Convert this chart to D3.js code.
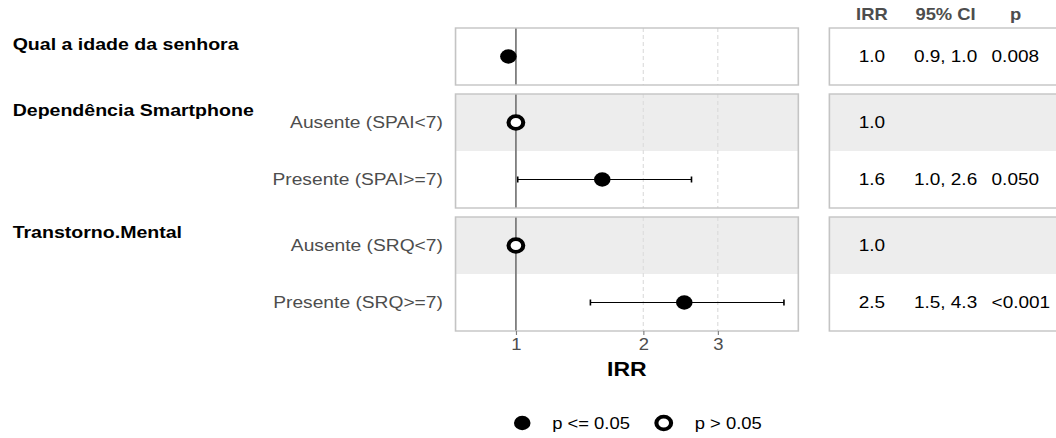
<!DOCTYPE html>
<html>
<head>
<meta charset="utf-8">
<script src="https://cdn.jsdelivr.net/npm/d3@7"></script>
<style>
  body { margin: 0; background: #ffffff; }
  svg { display: block; font-family: "Liberation Sans", Arial, sans-serif; }
</style>
</head>
<body>
<div id="chart"></div>
<script>
// Data
const groups = ["Qual a idade da senhora", "Dependência Smartphone", "Transtorno.Mental"];
const rowGroup = [0, 1, 1, 2, 2];
const rowLabels = ["", "Ausente (SPAI<7)", "Presente (SPAI>=7)", "Ausente (SRQ<7)", "Presente (SRQ>=7)"];
const irr = [0.96, 1.0, 1.6, 1.0, 2.5];
const ciLow = [0.94, null, 1.01, null, 1.5];
const ciHigh = [0.99, null, 2.6, null, 4.3];
const pValues = [0.008, null, 0.050, null, 0.0005];
const irrText = ["1.0", "1.0", "1.6", "1.0", "2.5"];
const ciText = ["0.9, 1.0", "", "1.0, 2.6", "", "1.5, 4.3"];
const pText = ["0.008", "", "0.050", "", "<0.001"];
const xTicks = [1, 2, 3];
const legendLabels = ["p <= 0.05", "p > 0.05"];

// the source picture is stretched sideways, so draw in a narrower box and stretch it
const stretch = 1.15;
const W = Math.round(1056 / stretch), H = 438;

const svg = d3.select("#chart").append("svg")
    .attr("width", 1056)
    .attr("height", H)
    .attr("viewBox", `0 0 ${W} ${H}`)
    .attr("preserveAspectRatio", "none");

const x = d3.scaleLog().domain([0.72, 4.65]).range([396, 694]);

// row layout: rows of one group share a panel
const rowH = 57, gap = 9, topY = 28;
const rows = rowLabels.map((lab, i) => {
    const g = rowGroup[i];
    const firstInGroup = rowGroup.indexOf(g);
    return { i, g, lab, shaded: rowGroup.filter(v => v === g).length > 1 && i === firstInGroup };
});
let cursor = topY;
const panels = groups.map((name, g) => {
    const n = rowGroup.filter(v => v === g).length;
    const p = { name, g, y0: cursor, y1: cursor + n * rowH };
    cursor += n * rowH + gap;
    return p;
});
rows.forEach(r => {
    const p = panels[r.g];
    const k = r.i - rowGroup.indexOf(r.g);
    r.y0 = p.y0 + k * rowH;
    r.cy = r.y0 + rowH / 2;
});

const tableX0 = 721, tableX1 = W + 10;

// row shading
svg.selectAll("rect.shade").data(rows.filter(r => r.shaded)).enter()
    .append("rect")
    .attr("x", x.range()[0]).attr("y", d => d.y0)
    .attr("width", x.range()[1] - x.range()[0]).attr("height", rowH)
    .attr("fill", "#ededed");
svg.selectAll("rect.shadeT").data(rows.filter(r => r.shaded)).enter()
    .append("rect")
    .attr("x", tableX0).attr("y", d => d.y0)
    .attr("width", tableX1 - tableX0).attr("height", rowH)
    .attr("fill", "#ededed");

// gridlines at 2 and 3
panels.forEach(p => {
    svg.selectAll(null).data(xTicks.filter(t => t !== 1)).enter()
        .append("line")
        .attr("x1", d => x(d)).attr("x2", d => x(d))
        .attr("y1", p.y0).attr("y2", p.y1)
        .attr("stroke", "#dcdcdc").attr("stroke-width", 1)
        .attr("stroke-dasharray", "4,3");
    // reference line at IRR = 1
    svg.append("line")
        .attr("x1", x(1)).attr("x2", x(1))
        .attr("y1", p.y0).attr("y2", p.y1)
        .attr("stroke", "#7f7f7f").attr("stroke-width", 1.6);
});

// panel borders
panels.forEach(p => {
    svg.append("rect")
        .attr("x", x.range()[0]).attr("y", p.y0)
        .attr("width", x.range()[1] - x.range()[0]).attr("height", p.y1 - p.y0)
        .attr("fill", "none").attr("stroke", "#c4c4c4").attr("stroke-width", 1.4);
    svg.append("rect")
        .attr("x", tableX0).attr("y", p.y0)
        .attr("width", tableX1 - tableX0).attr("height", p.y1 - p.y0)
        .attr("fill", "none").attr("stroke", "#c4c4c4").attr("stroke-width", 1.4);
});

// group labels
svg.selectAll("text.group").data(panels).enter()
    .append("text")
    .attr("x", 11).attr("y", (d, i) => [50, 116, 238][i])
    .attr("font-size", 17).attr("font-weight", "bold").attr("fill", "#000")
    .text(d => d.name);

// row labels
svg.selectAll("text.row").data(rows.filter(r => r.lab)).enter()
    .append("text")
    .attr("x", 385).attr("y", d => d.cy + 6)
    .attr("text-anchor", "end")
    .attr("font-size", 16.7).attr("fill", "#4d4d4d")
    .text(d => d.lab);

// confidence intervals
const ciRows = rows.filter(r => ciLow[r.i] != null);
svg.selectAll("line.ci").data(ciRows).enter()
    .append("line")
    .attr("x1", d => x(ciLow[d.i])).attr("x2", d => x(ciHigh[d.i]))
    .attr("y1", d => d.cy).attr("y2", d => d.cy)
    .attr("stroke", "#000").attr("stroke-width", 1.2);
ciRows.forEach(d => {
    [ciLow[d.i], ciHigh[d.i]].forEach(v => {
        svg.append("line")
            .attr("x1", x(v)).attr("x2", x(v))
            .attr("y1", d.cy - 3).attr("y2", d.cy + 3)
            .attr("stroke", "#000").attr("stroke-width", 1.4);
    });
});

// points
const sig = i => pValues[i] != null && pValues[i] <= 0.05;
svg.selectAll("circle.pt").data(rows).enter()
    .append("circle")
    .attr("cx", d => x(irr[d.i])).attr("cy", d => d.cy)
    .attr("r", d => sig(d.i) ? 7.2 : 6.4)
    .attr("fill", d => sig(d.i) ? "#000" : "#fff")
    .attr("stroke", "#000")
    .attr("stroke-width", d => sig(d.i) ? 0 : 3.6);

// x axis
const axisY = panels[panels.length - 1].y1;
const axis = svg.append("g")
    .attr("transform", `translate(0,${axisY})`)
    .call(d3.axisBottom(x).tickValues(xTicks).tickFormat(d3.format("d")).tickSize(4).tickPadding(4));
axis.select(".domain").remove();
axis.selectAll(".tick line").attr("stroke", "#7f7f7f");
axis.selectAll(".tick text")
    .attr("font-family", "Liberation Sans, Arial, sans-serif")
    .attr("font-size", 16).attr("fill", "#4d4d4d");

svg.append("text")
    .attr("x", (x.range()[0] + x.range()[1]) / 2).attr("y", 376)
    .attr("text-anchor", "middle")
    .attr("font-size", 20).attr("font-weight", "bold").attr("fill", "#000")
    .text("IRR");

// table headers
const colIRR = 758, colCI = 822, colP = 862;
const hdr = [["IRR", colIRR], ["95% CI", colCI], ["p", 883]];
svg.selectAll("text.hdr").data(hdr).enter()
    .append("text")
    .attr("x", d => d[1]).attr("y", 20)
    .attr("text-anchor", "middle")
    .attr("font-size", 16).attr("font-weight", "bold").attr("fill", "#4d4d4d")
    .text(d => d[0]);

// table values
const cell = (arr, xpos, anchor) => {
    svg.selectAll(null).data(rows).enter()
        .append("text")
        .attr("x", xpos).attr("y", d => d.cy + 6)
        .attr("text-anchor", anchor)
        .attr("font-size", 16.5).attr("fill", "#000")
        .text(d => arr[d.i]);
};
cell(irrText, colIRR, "middle");
cell(ciText, colCI, "middle");
cell(pText, colP, "start");

// legend
const legY = 423;
svg.append("circle").attr("cx", 454).attr("cy", legY).attr("r", 7.2).attr("fill", "#000");
svg.append("text").attr("x", 480).attr("y", legY + 6)
    .attr("font-size", 16).attr("fill", "#000").text(legendLabels[0]);
svg.append("circle").attr("cx", 577).attr("cy", legY).attr("r", 6.4)
    .attr("fill", "#fff").attr("stroke", "#000").attr("stroke-width", 3.6);
svg.append("text").attr("x", 604).attr("y", legY + 6)
    .attr("font-size", 16).attr("fill", "#000").text(legendLabels[1]);
</script>
</body>
</html>
